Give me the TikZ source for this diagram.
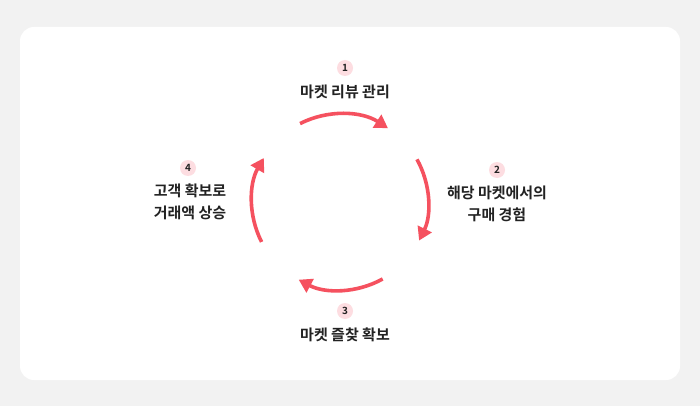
\documentclass[tikz,border=0pt]{standalone}
\usepackage{fontspec}
\setmainfont{Noto Sans CJK KR}[BoldFont={Noto Sans CJK KR Bold}]
\usetikzlibrary{arrows.meta}
\definecolor{bg}{HTML}{F2F2F2}
\definecolor{accent}{HTML}{F5515F}
\definecolor{badge}{HTML}{FDDDE1}
\definecolor{txt}{HTML}{222222}
\tikzset{
  cyc/.style={draw=accent,line width=3.6pt,-{Triangle[length=13pt,width=15pt]}},
  num/.style={circle,fill=badge,minimum size=16pt,inner sep=0pt,font=\fontsize{10}{11}\selectfont\bfseries,text=txt},
  lab/.style={font=\fontsize{15}{22}\selectfont\bfseries,text=txt,align=center}
}
\begin{document}
\begin{tikzpicture}[x=1pt,y=-1pt]
\fill[bg] (0,0) rectangle (700,406);
\useasboundingbox (0,0) rectangle (700,406);
\fill[white,rounded corners=14pt] (20,27) rectangle (680,380);
\coordinate (c) at (340,202);
\draw[cyc] ([shift={(-117:88)}]c) arc[start angle=-117,end angle=-57,radius=88];
\draw[cyc] ([shift={(-29:88)}]c) arc[start angle=-29,end angle=26,radius=88];
\draw[cyc] ([shift={(61:88)}]c) arc[start angle=61,end angle=118,radius=88];
\draw[cyc] ([shift={(153:88)}]c) arc[start angle=153,end angle=210,radius=88];
\node[num] (n1) at (345,68) {1};
\node[lab] (l1) at (345,92) {마켓 리뷰 관리};
\node[num] (n2) at (497,170) {2};
\node[lab] (l2) at (497,204) {해당 마켓에서의\\구매 경험};
\node[num] (n3) at (345,311) {3};
\node[lab] (l3) at (345,335) {마켓 즐찾 확보};
\node[num] (n4) at (188,168) {4};
\node[lab] (l4) at (190,202) {고객 확보로\\거래액 상승};
\end{tikzpicture}
\end{document}
